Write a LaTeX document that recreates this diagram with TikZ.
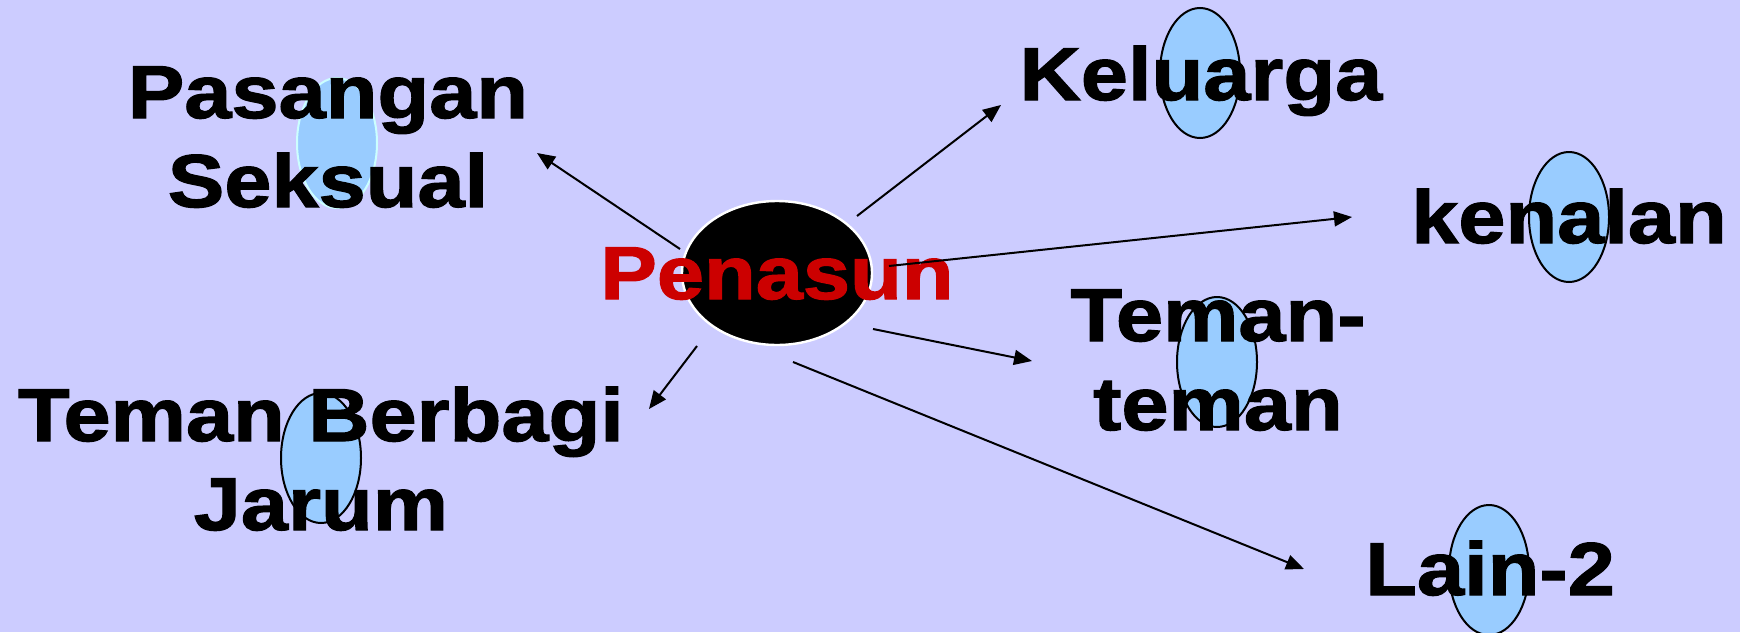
\documentclass[tikz,border=0pt]{standalone}
\usepackage{fontspec}
\usepackage{tikz}
\usetikzlibrary{shapes.geometric, arrows.meta, positioning}
\newfontfamily\lblfont[FakeStretch=1.13, FakeBold=1.6]{Liberation Sans Bold}
\definecolor{slidebg}{HTML}{CCCCFF}
\definecolor{bubbleblue}{HTML}{99CCFF}
\definecolor{paleedge}{HTML}{CCFFFF}
\definecolor{penasunred}{HTML}{CC0000}

\tikzset{
    lbl/.style={font=\lblfont\fontsize{37.5}{44.5}\selectfont, text=black, align=center, inner sep=0pt, anchor=base},
    bubble/.style={ellipse, draw=black, line width=1pt, fill=bubbleblue, inner sep=0pt, minimum width=40pt, minimum height=65pt},
    hub/.style={ellipse, draw=white, line width=1.2pt, fill=black, inner sep=0pt, minimum width=95pt, minimum height=72pt},
    conn/.style={line width=1pt, -{Triangle[length=9pt,width=7.5pt]}}
}

\begin{document}
\begin{tikzpicture}[x=0.5pt, y=-0.5pt]
    \fill[slidebg] (0,0) rectangle (1740,632);
    \useasboundingbox (0,0) rectangle (1740,632);

    % bubbles behind the labels
    \node[bubble, draw=paleedge] (bpas) at (337,143) {};
    \node[bubble] (bkel) at (1200,73) {};
    \node[bubble] (bken) at (1569,217) {};
    \node[bubble] (btem) at (1217,362) {};
    \node[bubble] (bjar) at (321,458) {};
    \node[bubble] (blain) at (1489,570) {};
    \node[hub] (hub) at (777,273) {};

    % labels (base = last line)
    \node[lbl] (pasangan) at (328,207) {Pasangan\\Seksual};
    \node[lbl] (keluarga) at (1201,100) {Keluarga};
    \node[lbl] (kenalan) at (1569,243) {kenalan};
    \node[lbl] (temanteman) at (1218,430) {Teman-\\teman};
    \node[lbl] (berbagi) at (321,530) {Teman Berbagi\\Jarum};
    \node[lbl] (lain) at (1490,595) {Lain-2};
    \node[lbl, text=penasunred] (penasun) at (777,299) {Penasun};

    % arrow ends
    \coordinate (pasS) at (680,249);  \coordinate (pasT) at (537,153);
    \coordinate (kelS) at (857,216);  \coordinate (kelT) at (1001,105);
    \coordinate (kenS) at (889,266);  \coordinate (kenT) at (1352,217);
    \coordinate (temS) at (873,329);  \coordinate (temT) at (1032,361);
    \coordinate (lainS) at (793,362); \coordinate (lainT) at (1304,569);
    \coordinate (jarS) at (697,346);  \coordinate (jarT) at (649,409);

    \draw[conn] (pasS) -- (pasT);
    \draw[conn] (kelS) -- (kelT);
    \draw[conn] (kenS) -- (kenT);
    \draw[conn] (temS) -- (temT);
    \draw[conn] (lainS) -- (lainT);
    \draw[conn] (jarS) -- (jarT);
\end{tikzpicture}
\end{document}
